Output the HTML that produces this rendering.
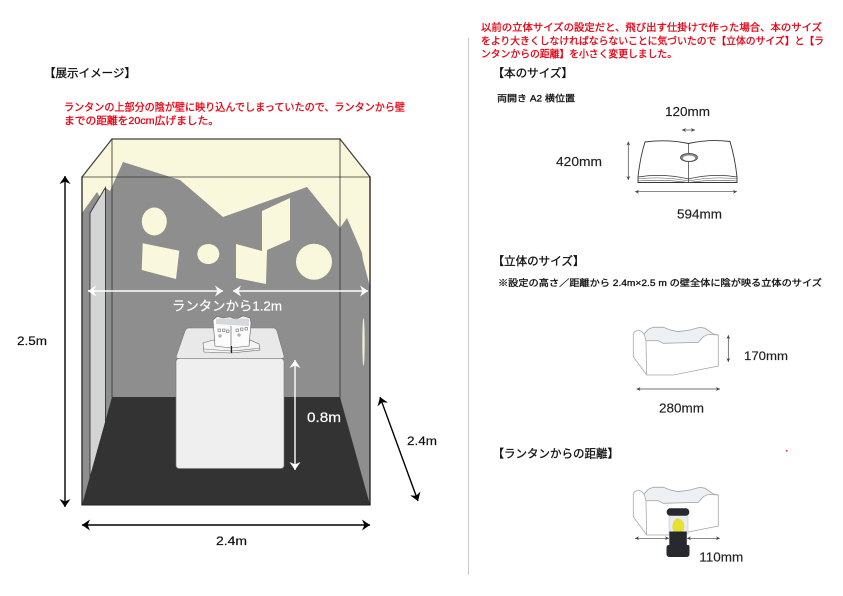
<!DOCTYPE html>
<html><head><meta charset="utf-8">
<style>
html,body{margin:0;padding:0;background:#fff;}
svg{display:block;}
text{font-family:"Liberation Sans","Noto Sans CJK JP",sans-serif;}
</style></head>
<body>
<svg width="843" height="596" viewBox="0 0 843 596" xmlns="http://www.w3.org/2000/svg">
<defs>
<marker id="mb" viewBox="0 0 10 10" refX="10" refY="5" markerWidth="8" markerHeight="11" markerUnits="userSpaceOnUse" orient="auto-start-reverse" preserveAspectRatio="none"><path d="M0,0 L10,5 L0,10 L3,5 Z" fill="#000"/></marker>
<marker id="mw" viewBox="0 0 10 10" refX="10" refY="5" markerWidth="8" markerHeight="11" markerUnits="userSpaceOnUse" orient="auto-start-reverse" preserveAspectRatio="none"><path d="M0,0 L10,5 L0,10 L3,5 Z" fill="#fff"/></marker>
<marker id="mg" viewBox="0 0 10 10" refX="10" refY="5" markerWidth="4" markerHeight="4" markerUnits="userSpaceOnUse" orient="auto-start-reverse" preserveAspectRatio="none"><path d="M0,0 L10,5 L0,10 L3,5 Z" fill="#444"/></marker>
<g id="solid">
<path d="M633.3,333.3 Q635,330.5 638.3,330.5 Q642,330.5 644,334 L648.3,329.3 L653.3,327.3 L663.3,327.3 L670,330 L678.3,331.7 L690,330 L700,327.3 L705,328.3 L713.3,334 L718.3,335 L718.3,366 L673.3,375 L646.7,375 L633.3,356.7 Z" fill="#fff" stroke="#a9a9a9" stroke-width="0.8"/>
<path d="M644,334 L648.3,329.3 L653.3,327.3 L663.3,327.3 L670,330 L678.3,331.7 L690,330 L700,327.3 L705,328.3 L713.3,334 L718.3,335 L708.3,334.3 L703.3,336.7 L698.3,342.3 L663.3,343.3 L658.3,340.7 L646,340.7 Z" fill="#eef1f4" stroke="#a9a9a9" stroke-width="0.8"/>
<path d="M646,340.7 L646.7,375" fill="none" stroke="#a9a9a9" stroke-width="0.8"/>
</g>
</defs>

<!-- divider -->
<line x1="468.5" y1="38" x2="468.5" y2="575" stroke="#c8c8c8" stroke-width="1"/>

<!-- LEFT: headings -->
<text x="44" y="77" font-size="11.5" fill="#111" stroke="#111" stroke-width="0.3" textLength="92" lengthAdjust="spacingAndGlyphs">【展示イメージ】</text>
<text x="64" y="110.5" font-size="10.5" fill="#e60012" stroke="#e60012" stroke-width="0.3" textLength="341" lengthAdjust="spacingAndGlyphs">ランタンの上部分の陰が壁に映り込んでしまっていたので、ランタンから壁</text>
<text x="64" y="124" font-size="10.5" fill="#e60012" stroke="#e60012" stroke-width="0.3" textLength="155" lengthAdjust="spacingAndGlyphs">までの距離を20cm広げました。</text>

<!-- room -->
<polygon points="82,177 112,139 340,139 370,177 370,505 82,505" fill="#faf8dc"/>
<polygon points="82,213 97,192 100,197 106,188 110,191 123,162 180,180 223,217 307,187 340,228 347,218 362,253 363,260 370,287 370,505 82,505" fill="#8e8e8e"/>
<!-- cream shapes -->
<ellipse cx="154.3" cy="221.5" rx="12.5" ry="14" fill="#faf8dc"/>
<polygon points="142.7,243.3 179.3,250.7 176,279 141.7,270" fill="#faf8dc"/>
<ellipse cx="208.3" cy="254" rx="11" ry="10" fill="#faf8dc"/>
<polygon points="236,244 262,251 262,211 290,198 290,240 267,250 266,284 236,278" fill="#faf8dc"/>
<circle cx="314" cy="261.7" r="18" fill="#faf8dc"/>
<ellipse cx="363.5" cy="342" rx="1.2" ry="24" fill="#faf8dc" opacity="0.9"/>
<!-- left panel -->
<polygon points="90,213 105.5,187.5 105.5,480 90,480" fill="#d3d4d4" stroke="#333" stroke-width="0.9"/>
<!-- floor -->
<polygon points="82,505 112,397 340,397 370,505" fill="#333"/>
<!-- edges -->
<g stroke-linecap="round">
<line x1="112" y1="139" x2="340" y2="139" stroke="#4a423c" stroke-width="1.3"/>
<line x1="82" y1="177" x2="112" y2="139" stroke="#4a423c" stroke-width="1.3"/>
<line x1="370" y1="177" x2="340" y2="139" stroke="#4a423c" stroke-width="1.3"/>
<line x1="112" y1="139" x2="112" y2="397" stroke="#3a3430" stroke-opacity="0.65" stroke-width="1.3"/>
<line x1="340" y1="139" x2="340" y2="397" stroke="#3a3430" stroke-opacity="0.65" stroke-width="1.3"/>
<line x1="82" y1="177" x2="370" y2="177" stroke="#3a3430" stroke-opacity="0.6" stroke-width="1.3"/>
<line x1="82" y1="177" x2="82" y2="505" stroke="#2a2520" stroke-width="1.3"/>
<line x1="370" y1="177" x2="370" y2="505" stroke="#1e1a18" stroke-width="1.3"/>
<line x1="82" y1="505" x2="370" y2="505" stroke="#222" stroke-width="1"/>
</g>

<!-- pedestal -->
<path d="M189,328 L273,328 Q276,328 277,331 L284,356 Q284.5,358.5 281,358.5 L179,358.5 Q175.5,358.5 176.3,356 L185,331 Q186,328 189,328 Z" fill="#e9e9e9" stroke="#777" stroke-width="0.6"/>
<rect x="176" y="358.5" width="108" height="110" rx="3" fill="#efefef" stroke="#777" stroke-width="0.6"/>
<!-- popup book -->
<polygon points="203,343 213,340 231,344 250,340 259,344 260,350 231,353 204,352" fill="#f4f4f4" stroke="#666" stroke-width="0.6"/>
<path d="M204,349 Q218,350 231,351 Q246,350 260,348" fill="none" stroke="#777" stroke-width="0.6"/>
<polygon points="213,320 217,316.5 223,318 230,317 236,319 243,316 250,318 251,323 249,346 231,348 215,346" fill="#fbfbfb" stroke="#666" stroke-width="0.6"/>
<polygon points="216,318.5 249,318.5 249,326 216,324" fill="#c5c9ce" opacity="0.7"/>
<line x1="231" y1="326" x2="231" y2="352" stroke="#555" stroke-width="0.6"/>
<g fill="none" stroke="#555" stroke-width="0.5">
<rect x="218" y="329" width="2.5" height="2.5"/><rect x="222.5" y="329" width="2.5" height="2.5"/><rect x="226.5" y="330" width="2.5" height="2.5"/>
<rect x="236" y="329" width="2.5" height="2.5"/><rect x="240.5" y="328" width="2.5" height="2.5"/><rect x="245" y="327.5" width="2.5" height="2.5"/>
<rect x="219" y="335" width="2" height="2"/><rect x="238" y="334" width="2" height="2"/>
</g>
<line x1="231.5" y1="346" x2="231.5" y2="353" stroke="#222" stroke-width="1.2"/>

<!-- white arrows -->
<line x1="88" y1="291" x2="223" y2="291" stroke="#fff" stroke-width="1.4" marker-start="url(#mw)" marker-end="url(#mw)"/>
<line x1="233" y1="291" x2="368" y2="291" stroke="#fff" stroke-width="1.4" marker-start="url(#mw)" marker-end="url(#mw)"/>
<text x="172" y="310.5" font-size="13" fill="#fff" stroke="#fff" stroke-width="0.2" textLength="110" lengthAdjust="spacingAndGlyphs">ランタンから1.2m</text>
<line x1="295" y1="360" x2="295" y2="470" stroke="#fff" stroke-width="1.4" marker-start="url(#mw)" marker-end="url(#mw)"/>
<text x="307" y="422" font-size="13.5" fill="#fff" stroke="#fff" stroke-width="0.2" textLength="34" lengthAdjust="spacingAndGlyphs">0.8m</text>

<!-- black dimension arrows -->
<line x1="65" y1="176" x2="65" y2="507" stroke="#000" stroke-width="1.4" marker-start="url(#mb)" marker-end="url(#mb)"/>
<text x="17" y="345" font-size="12" fill="#111" stroke="#111" stroke-width="0.2" textLength="30" lengthAdjust="spacingAndGlyphs">2.5m</text>
<line x1="82" y1="525" x2="370" y2="525" stroke="#000" stroke-width="1.4" marker-start="url(#mb)" marker-end="url(#mb)"/>
<text x="216" y="545" font-size="12" fill="#111" stroke="#111" stroke-width="0.2" textLength="31" lengthAdjust="spacingAndGlyphs">2.4m</text>
<line x1="380" y1="397" x2="418" y2="501" stroke="#000" stroke-width="1.4" marker-start="url(#mb)" marker-end="url(#mb)"/>
<text x="407" y="445" font-size="12" fill="#111" stroke="#111" stroke-width="0.2" textLength="30" lengthAdjust="spacingAndGlyphs">2.4m</text>

<!-- RIGHT: red note -->
<text x="481" y="31" font-size="10" fill="#e60012" stroke="#e60012" stroke-width="0.3" textLength="341" lengthAdjust="spacingAndGlyphs">以前の立体サイズの設定だと、飛び出す仕掛けで作った場合、本のサイズ</text>
<text x="481" y="44.5" font-size="10" fill="#e60012" stroke="#e60012" stroke-width="0.3" textLength="343" lengthAdjust="spacingAndGlyphs">をより大きくしなければならないことに気づいたので【立体のサイズ】と【ラ</text>
<text x="481" y="57.5" font-size="10" fill="#e60012" stroke="#e60012" stroke-width="0.3" textLength="196" lengthAdjust="spacingAndGlyphs">ンタンからの距離】を小さく変更しました。</text>

<!-- 本のサイズ -->
<text x="492.5" y="77" font-size="11.5" fill="#111" stroke="#111" stroke-width="0.3" textLength="80.5" lengthAdjust="spacingAndGlyphs">【本のサイズ】</text>
<text x="497" y="101.5" font-size="9" fill="#111" stroke="#111" stroke-width="0.3" textLength="78" lengthAdjust="spacingAndGlyphs">両開き A2 横位置</text>
<text x="665" y="116" font-size="13" fill="#222" stroke="#222" stroke-width="0.15" textLength="45" lengthAdjust="spacingAndGlyphs">120mm</text>
<line x1="682" y1="130" x2="695" y2="130" stroke="#444" stroke-width="0.7" marker-start="url(#mg)" marker-end="url(#mg)"/>
<text x="556" y="166" font-size="13" fill="#222" stroke="#222" stroke-width="0.15" textLength="46" lengthAdjust="spacingAndGlyphs">420mm</text>
<line x1="628.3" y1="141.5" x2="628.3" y2="180" stroke="#444" stroke-width="0.7" marker-start="url(#mg)" marker-end="url(#mg)"/>
<!-- book -->
<path d="M645,142 Q667,139 688.5,143.5 Q709,139 730,141.5 Q735,158 737,177 L737,182.5 L638,182.5 L638,177 Q640,158 645,142 Z" fill="#fff" stroke="#333" stroke-width="0.9"/>
<path d="M638,177 Q663,173 688.5,179 Q713,173 737,177" fill="none" stroke="#333" stroke-width="0.8"/>
<path d="M638,179 Q663,176 688.5,181 Q713,176 737,179" fill="none" stroke="#555" stroke-width="0.6"/>
<path d="M638,181 Q663,179 688.5,182.5 Q713,179 737,181" fill="none" stroke="#555" stroke-width="0.6"/>
<line x1="688.5" y1="143.5" x2="688.5" y2="183" stroke="#333" stroke-width="0.7"/>
<ellipse cx="689" cy="157.5" rx="8.5" ry="4.2" fill="#8a8a8a" stroke="#333" stroke-width="0.7"/>
<ellipse cx="689" cy="158.2" rx="6" ry="2.7" fill="#fff"/>
<line x1="635" y1="191.7" x2="737" y2="191.7" stroke="#444" stroke-width="0.7" marker-start="url(#mg)" marker-end="url(#mg)"/>
<text x="677" y="218.3" font-size="13" fill="#222" stroke="#222" stroke-width="0.15" textLength="45" lengthAdjust="spacingAndGlyphs">594mm</text>

<!-- 立体のサイズ -->
<text x="492.5" y="265" font-size="11.5" fill="#111" stroke="#111" stroke-width="0.3" textLength="92" lengthAdjust="spacingAndGlyphs">【立体のサイズ】</text>
<text x="498" y="286" font-size="9" fill="#111" stroke="#111" stroke-width="0.3" textLength="324" lengthAdjust="spacingAndGlyphs">※設定の高さ／距離から 2.4m×2.5 m の壁全体に陰が映る立体のサイズ</text>
<use href="#solid"/>
<line x1="728.3" y1="335" x2="728.3" y2="362" stroke="#444" stroke-width="0.7" marker-start="url(#mg)" marker-end="url(#mg)"/>
<text x="744" y="360" font-size="12" fill="#222" stroke="#222" stroke-width="0.15" textLength="44" lengthAdjust="spacingAndGlyphs">170mm</text>
<line x1="636.5" y1="389" x2="720" y2="389" stroke="#444" stroke-width="0.7" marker-start="url(#mg)" marker-end="url(#mg)"/>
<text x="659" y="412.7" font-size="12.5" fill="#222" stroke="#222" stroke-width="0.15" textLength="45" lengthAdjust="spacingAndGlyphs">280mm</text>

<!-- ランタンからの距離 -->
<text x="492.5" y="457.5" font-size="11.5" fill="#111" stroke="#111" stroke-width="0.3" textLength="126.5" lengthAdjust="spacingAndGlyphs">【ランタンからの距離】</text>
<circle cx="786.7" cy="450.7" r="0.8" fill="#e60012"/>
<use href="#solid" transform="translate(0,160)"/>
<!-- lantern -->
<rect x="669" y="514" width="19" height="20" fill="#e8ecf0" stroke="#b8bcc0" stroke-width="0.5"/>
<ellipse cx="678.3" cy="526.5" rx="6" ry="8" fill="#e6e032"/>
<rect x="666.7" y="508.3" width="22.6" height="7.5" rx="3.5" fill="#262a2e"/>
<path d="M669.3,531.5 L686.8,531.5 L686.8,545 L669.3,545 Z" fill="#262a2e"/>
<path d="M668.5,545 L688.5,545 Q689.5,545 689.5,548 L689.5,554 Q689.5,557 686,557 L670,557 Q666.5,557 666.5,554 L666.5,548 Q666.5,545 668.5,545 Z" fill="#262a2e"/>
<line x1="635" y1="538.3" x2="669" y2="538.3" stroke="#444" stroke-width="0.7" marker-start="url(#mg)" marker-end="url(#mg)"/>
<line x1="687" y1="538.3" x2="720" y2="538.3" stroke="#444" stroke-width="0.7" marker-start="url(#mg)" marker-end="url(#mg)"/>
<text x="699.3" y="561.7" font-size="13" fill="#222" stroke="#222" stroke-width="0.15" textLength="44" lengthAdjust="spacingAndGlyphs">110mm</text>
</svg>
</body></html>
